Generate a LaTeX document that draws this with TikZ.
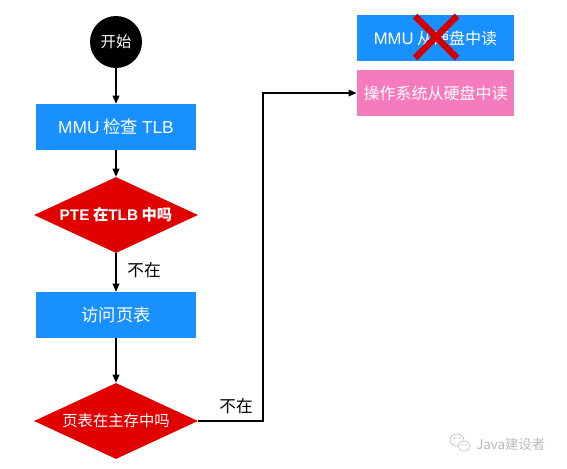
\documentclass[tikz,border=0pt]{standalone}
\usepackage{fontspec}
\setmainfont{Noto Sans CJK SC}
\newfontfamily\latin{Liberation Sans}
\usetikzlibrary{shapes.geometric,arrows.meta}
\definecolor{boxblue}{HTML}{1890FF}
\definecolor{boxpink}{HTML}{F67BBC}
\definecolor{dred}{HTML}{E00000}
\definecolor{xred}{HTML}{D00000}
\tikzset{
  px/.style={x=0.75pt,y=-0.75pt},
  bluebox/.style={rectangle,fill=boxblue,text=white,minimum width=120pt,minimum height=34.5pt,inner sep=0pt,font=\fontsize{13}{15}\selectfont},
  pinkbox/.style={bluebox,fill=boxpink,minimum width=118pt,font=\fontsize{12}{14}\selectfont},
  decision/.style={diamond,aspect=2.16,fill=dred,text=white,minimum width=123pt,minimum height=57pt,inner sep=0pt,font=\bfseries\fontsize{11.5}{13}\selectfont},
  startnode/.style={circle,fill=black,text=white,minimum size=39pt,inner sep=0pt,font=\fontsize{11.5}{13}\selectfont},
  conn/.style={line width=0.9pt,-{Triangle[length=6pt,width=5pt]}},
  lbl/.style={font=\fontsize{12.5}{14}\selectfont,text=black,inner sep=0pt},
}
\begin{document}
\begin{tikzpicture}[px]
\useasboundingbox (0,0) rectangle (567,468);
\node[startnode] (start) at (116,42) {开始};
\node[bluebox] (mmu) at (116,127) {{\latin MMU} 检查 {\latin TLB}};
\node[decision] (pte) at (116,215) {{\latin\bfseries PTE} 在{\latin\bfseries TLB} 中吗};
\node[bluebox] (visit) at (116,315) {访问页表};
\node[decision,font=\fontsize{11.5}{13}\selectfont] (pt) at (116,421) {页表在主存中吗};
\node[pinkbox,fill=boxblue] (mmudisk) at (435.5,38) {{\latin\fontsize{12.5}{14}\selectfont MMU} 从硬盘中读};
\node[pinkbox] (osdisk) at (435.5,93) {操作系统从硬盘中读};
\coordinate (bend) at (263,421);
\draw[conn] (start) -- (mmu);
\draw[conn] (mmu) -- (pte);
\draw[conn] (pte) -- (visit);
\draw[conn] (visit) -- (pt);
\draw[conn] (pt.east) -- (bend) |- (osdisk.west);
\node[lbl] (no1) at (144,270) {不在};
\node[lbl] (no2) at (236,406) {不在};
% red cross
\draw[xred,line width=5pt] (415,16) -- (457,58);
\draw[xred,line width=5pt] (457,16) -- (415,58);
% watermark
\draw[gray!45,line width=0.6pt] (457,440) ellipse (7 and 6);
\draw[gray!45,line width=0.6pt,fill=white] (464,446) ellipse (6 and 5);
\fill[gray!45] (454.5,438) circle (0.9) (459.5,438) circle (0.9) (462,445) circle (0.8) (466,445) circle (0.8);
\node[font=\fontsize{10}{12}\selectfont,text=gray!55,anchor=west,inner sep=0pt] (wm) at (476,444) {Java建设者};
\end{tikzpicture}
\end{document}
